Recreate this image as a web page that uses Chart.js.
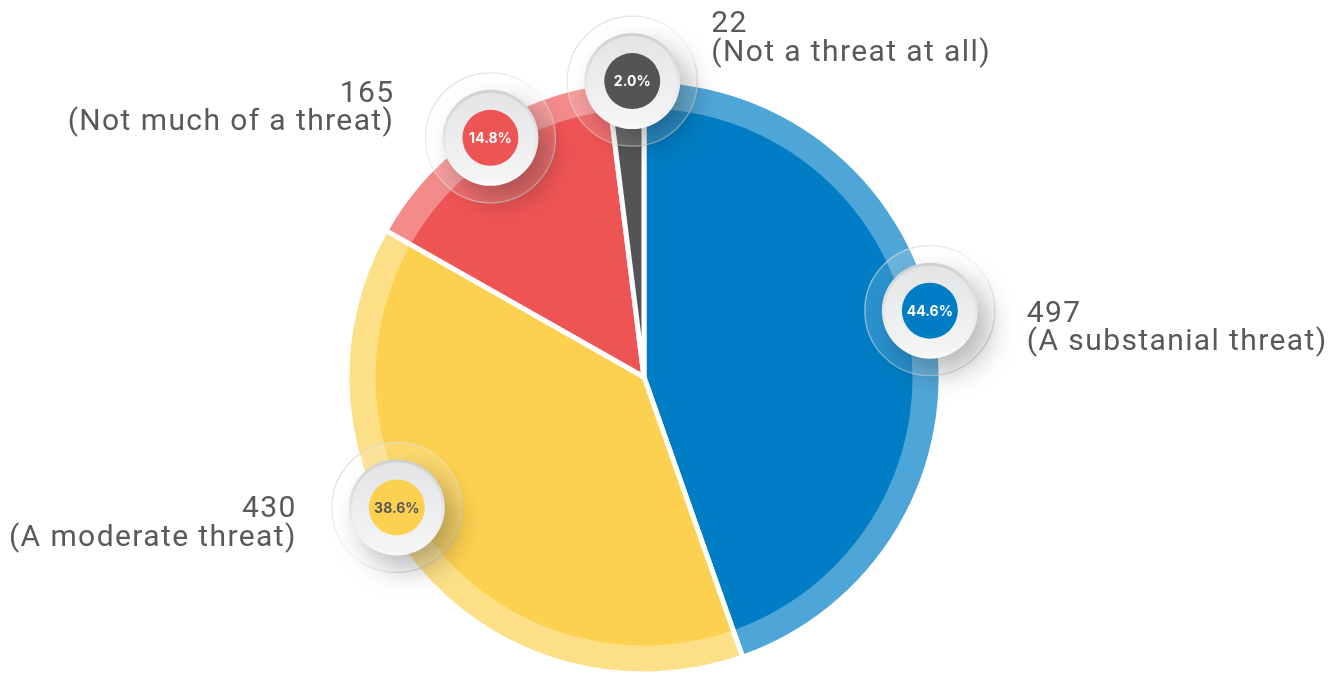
<!DOCTYPE html>
<html>
<head>
<meta charset="utf-8">
<script src="https://cdn.jsdelivr.net/npm/chart.js@4.4.1/dist/chart.umd.min.js"></script>
<style>
  html, body { margin: 0; padding: 0; background: #fff; }
  #wrap { width: 1344px; height: 673px; }
</style>
</head>
<body>
<div id="wrap"><canvas id="threat-pie" width="1344" height="673"></canvas></div>
<script>
// survey answers, clockwise from 12 o'clock
const categories = ['A substanial threat', 'A moderate threat', 'Not much of a threat', 'Not a threat at all'];
const counts = [497, 430, 165, 22];

const solidColors = ['#007dc4', '#fdd150', '#ef5455', '#545457'];
const ringColors = ['#4ea5d7', '#fddf87', '#f38b8b', '#7d7d80'];
const pctTextColors = ['#ffffff', '#555555', '#ffffff', '#ffffff'];

// badge anchor: fraction along the slice, distance as part of outer radius
const badgeAt = [0.479, 0.587, 0.52, 0.68];
const badgeDist = [0.988, 0.941, 0.957, 0.997];
// label offset from badge centre: [dx, first baseline dy] and alignment
const labelOffset = [[97, 11], [-100, 10], [-96, -36], [79, -49]];
const labelAlign = ['left', 'right', 'right', 'left'];

const OUTER_R = 297;
const SOLID_R = 268;

// solid colour inside, lighter band on the rim
function sliceFill(context) {
  const i = context.dataIndex;
  const chart = context.chart;
  const area = chart.chartArea;
  if (!area) return solidColors[i];
  const cx = (area.left + area.right) / 2;
  const cy = (area.top + area.bottom) / 2;
  const g = chart.ctx.createRadialGradient(cx, cy, 0, cx, cy, OUTER_R);
  const edge = SOLID_R / OUTER_R;
  g.addColorStop(0, solidColors[i]);
  g.addColorStop(edge, solidColors[i]);
  g.addColorStop(edge + 0.003, ringColors[i]);
  g.addColorStop(1, ringColors[i]);
  return g;
}

function drawBadge(ctx, x, y, i, text) {
  ctx.save();

  // glass halo
  ctx.beginPath();
  ctx.arc(x, y, 65, 0, Math.PI * 2);
  ctx.fillStyle = 'rgba(255,255,255,0.16)';
  ctx.fill();
  const halo = ctx.createLinearGradient(x - 65, y - 65, x + 65, y + 65);
  halo.addColorStop(0, 'rgba(205,205,205,0.9)');
  halo.addColorStop(0.5, 'rgba(235,235,235,0.5)');
  halo.addColorStop(1, 'rgba(190,190,190,0.9)');
  ctx.strokeStyle = halo;
  ctx.lineWidth = 1.2;
  ctx.stroke();

  // button with soft shadow
  ctx.save();
  ctx.shadowColor = 'rgba(0,0,0,0.28)';
  ctx.shadowBlur = 28;
  ctx.shadowOffsetX = 12;
  ctx.shadowOffsetY = 14;
  ctx.beginPath();
  ctx.arc(x, y, 48, 0, Math.PI * 2);
  const rim = ctx.createLinearGradient(x, y - 48, x, y + 48);
  rim.addColorStop(0, '#cfd0d3');
  rim.addColorStop(1, '#fafafa');
  ctx.fillStyle = rim;
  ctx.fill();
  ctx.restore();

  ctx.beginPath();
  ctx.arc(x, y, 45, 0, Math.PI * 2);
  const face = ctx.createLinearGradient(x, y - 45, x, y + 45);
  face.addColorStop(0, '#e3e4e6');
  face.addColorStop(1, '#f5f6f6');
  ctx.fillStyle = face;
  ctx.fill();

  // coloured core with the share
  ctx.beginPath();
  ctx.arc(x, y, 28, 0, Math.PI * 2);
  ctx.fillStyle = solidColors[i];
  ctx.fill();

  ctx.fillStyle = pctTextColors[i];
  ctx.font = 'bold 14px Inter, "Open Sans", sans-serif';
  ctx.textAlign = 'center';
  ctx.textBaseline = 'middle';
  ctx.fillText(text, x, y + 1);
  ctx.restore();
}

function drawLabel(ctx, x, y, i) {
  ctx.save();
  ctx.fillStyle = '#595959';
  ctx.font = '30px Roboto, sans-serif';
  ctx.letterSpacing = '1.4px';
  ctx.textAlign = labelAlign[i];
  ctx.textBaseline = 'alphabetic';
  const lx = x + labelOffset[i][0];
  const ly = y + labelOffset[i][1];
  ctx.fillText(String(counts[i]), lx, ly);
  ctx.fillText('(' + categories[i] + ')', lx, ly + 28.5);
  ctx.restore();
}

const badgePlugin = {
  id: 'badges',
  afterDatasetsDraw(chart) {
    const ctx = chart.ctx;
    const meta = chart.getDatasetMeta(0);
    const total = counts.reduce((a, b) => a + b, 0);
    meta.data.forEach((arc, i) => {
      const a = arc.startAngle + (arc.endAngle - arc.startAngle) * badgeAt[i];
      const r = arc.outerRadius * badgeDist[i];
      const x = arc.x + Math.cos(a) * r;
      const y = arc.y + Math.sin(a) * r;
      drawBadge(ctx, x, y, i, (counts[i] / total * 100).toFixed(1) + '%');
      drawLabel(ctx, x, y, i);
    });
  }
};

new Chart(document.getElementById('threat-pie'), {
  type: 'pie',
  data: {
    labels: categories,
    datasets: [{
      data: counts,
      backgroundColor: sliceFill,
      borderColor: '#ffffff',
      borderWidth: 5,
      hoverOffset: 0,
    }],
  },
  options: {
    responsive: false,
    animation: false,
    events: [],
    radius: OUTER_R,
    layout: { padding: { left: 0, right: 56, top: 81, bottom: 0 } },
    plugins: {
      legend: { display: false },
      tooltip: { enabled: false },
    },
  },
  plugins: [badgePlugin],
});
</script>
</body>
</html>
